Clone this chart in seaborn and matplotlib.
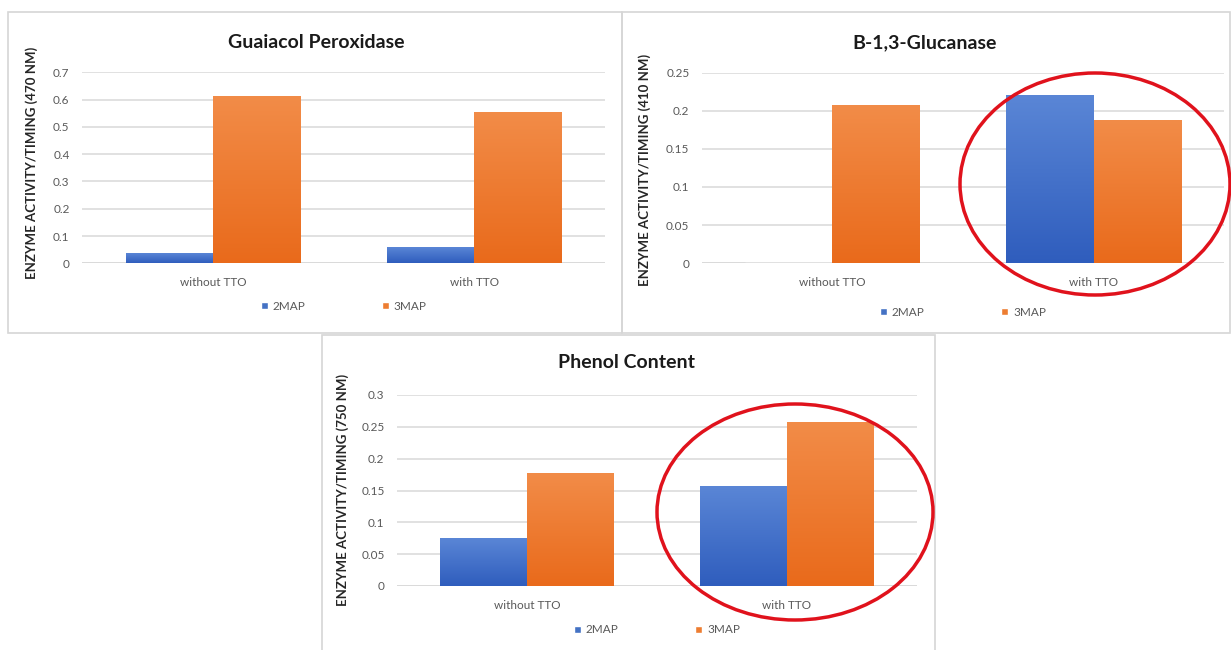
import numpy as np
import pandas as pd
import matplotlib
matplotlib.use("Agg")
import matplotlib.pyplot as plt
import seaborn as sns
from matplotlib.patches import Ellipse, Rectangle, Patch
from matplotlib.colors import LinearSegmentedColormap, to_rgb

# data
conditions = ["without TTO", "with TTO"]
series = ["2MAP", "3MAP"]

guaiacol_2map = [0.036, 0.056]
guaiacol_3map = [0.611, 0.551]
glucanase_2map = [0.0, 0.220]
glucanase_3map = [0.207, 0.187]
phenol_2map = [0.074, 0.156]
phenol_3map = [0.177, 0.257]

titles = ["Guaiacol Peroxidase", "B-1,3-Glucanase", "Phenol Content"]
ylabels = ["ENZYME ACTIVITY/TIMING (470 NM)",
           "ENZYME ACTIVITY/TIMING (410 NM)",
           "ENZYME ACTIVITY/TIMING (750 NM)"]
yticks = [[0, 0.1, 0.2, 0.3, 0.4, 0.5, 0.6, 0.7],
          [0, 0.05, 0.1, 0.15, 0.2, 0.25],
          [0, 0.05, 0.1, 0.15, 0.2, 0.25, 0.3]]
ytick_labels = [["0", "0.1", "0.2", "0.3", "0.4", "0.5", "0.6", "0.7"],
                ["0", "0.05", "0.1", "0.15", "0.2", "0.25"],
                ["0", "0.05", "0.1", "0.15", "0.2", "0.25", "0.3"]]

BLUE = "#4472C4"
ORANGE = "#ED7D31"
GRAD = {BLUE: ("#2f5dbd", "#5a86d6"), ORANGE: ("#e96a1b", "#f28c48")}


def make_df(a, b):
    return pd.DataFrame({
        "cond": conditions * 2,
        "series": [series[0]] * 2 + [series[1]] * 2,
        "value": list(a) + list(b),
    })


def shade_bars(ax):
    # excel-like vertical gradient on each bar
    ylim = ax.get_ylim()
    xlim = ax.get_xlim()
    grad = np.linspace(0, 1, 256).reshape(-1, 1)
    for p in list(ax.patches):
        x0, y0 = p.get_x(), p.get_y()
        w, h = p.get_width(), p.get_height()
        if h <= 0:
            continue
        fc = np.array(p.get_facecolor()[:3])
        d_blue = np.sum((fc - np.array(to_rgb(BLUE))) ** 2)
        d_orange = np.sum((fc - np.array(to_rgb(ORANGE))) ** 2)
        key = BLUE if d_blue < d_orange else ORANGE
        cmap = LinearSegmentedColormap.from_list("g", list(GRAD[key]))
        ax.imshow(grad, extent=[x0, x0 + w, y0, y0 + h], origin="lower",
                  cmap=cmap, aspect="auto", zorder=3)
        p.set_visible(False)
    ax.set_xlim(xlim)
    ax.set_ylim(ylim)


sns.set_theme(style="white")
plt.rcParams["font.family"] = ["Lato", "DejaVu Sans"]

fig = plt.figure(figsize=(12.31, 6.5), dpi=100)

# panel frames
frames = [(8, 12, 622, 333), (622, 12, 1230, 333), (322, 335, 935, 652)]
for (x0, y0, x1, y1) in frames:
    fig.add_artist(Rectangle((x0 / 1231, 1 - y1 / 650), (x1 - x0) / 1231,
                             (y1 - y0) / 650, transform=fig.transFigure,
                             fill=False, edgecolor="#d6d6d6", lw=1.2))

axes_pos = [[82 / 1231, 1 - 263.3 / 650, 523 / 1231, 191 / 650],
            [702 / 1231, 1 - 263 / 650, 522 / 1231, 190 / 650],
            [397 / 1231, 1 - 586 / 650, 520 / 1231, 191 / 650]]
data = [(guaiacol_2map, guaiacol_3map), (glucanase_2map, glucanase_3map),
        (phenol_2map, phenol_3map)]
title_xy = [(316, 43), (925, 43), (626, 362)]
ylabel_xy = [(32, 163), (645, 170), (343, 490)]
legend_y = [-0.225, -0.258, -0.23]

for i in range(3):
    ax = fig.add_axes(axes_pos[i])
    df = make_df(*data[i])
    sns.barplot(data=df, x="cond", y="value", hue="series",
                palette=[BLUE, ORANGE], saturation=1, width=0.667, ax=ax,
                errorbar=None, legend=False, zorder=3)
    ax.set_ylim(0, yticks[i][-1])
    ax.set_xlim(-0.5, 1.5)
    shade_bars(ax)
    ax.set_yticks(yticks[i])
    ax.set_yticklabels(ytick_labels[i])
    ax.yaxis.grid(True, color="#d9d9d9", lw=1.1, zorder=0)
    ax.set_axisbelow(True)
    for s in ax.spines.values():
        s.set_visible(False)
    ax.axhline(0, color="#d9d9d9", lw=1.1, zorder=1)
    ax.tick_params(axis="y", length=0, pad=9, labelsize=8.5, labelcolor="#595959")
    ax.tick_params(axis="x", length=0, pad=10, labelsize=8.5, labelcolor="#595959")
    ax.set_xlabel("")
    ax.set_ylabel("")

    handles = [Patch(facecolor=BLUE), Patch(facecolor=ORANGE)]
    ax.legend(handles, series, loc="center", bbox_to_anchor=(0.5, legend_y[i]),
              ncol=2, frameon=False, fontsize=8.5, handlelength=0.6,
              handleheight=0.6, handletextpad=0.4, columnspacing=6.5,
              labelcolor="#595959")

    tx, ty = title_xy[i]
    fig.text(tx / 1231, 1 - ty / 650, titles[i], ha="center", va="center",
             fontsize=14, fontweight="bold", color="#1a1a1a")
    lx, ly = ylabel_xy[i]
    fig.text(lx / 1231, 1 - ly / 650, ylabels[i], ha="center", va="center",
             rotation=90, fontsize=9.5, fontweight="bold", color="#262626")

# red highlight circles
fig.add_artist(Ellipse((1095 / 1231, 1 - 184 / 650), 270 / 1231, 222 / 650,
                       transform=fig.transFigure, fill=False,
                       edgecolor="#e0121c", lw=2.5))
fig.add_artist(Ellipse((795 / 1231, 1 - 512 / 650), 276 / 1231, 216 / 650,
                       transform=fig.transFigure, fill=False,
                       edgecolor="#e0121c", lw=2.5))

fig.savefig("out.png", dpi=100, facecolor="white")
